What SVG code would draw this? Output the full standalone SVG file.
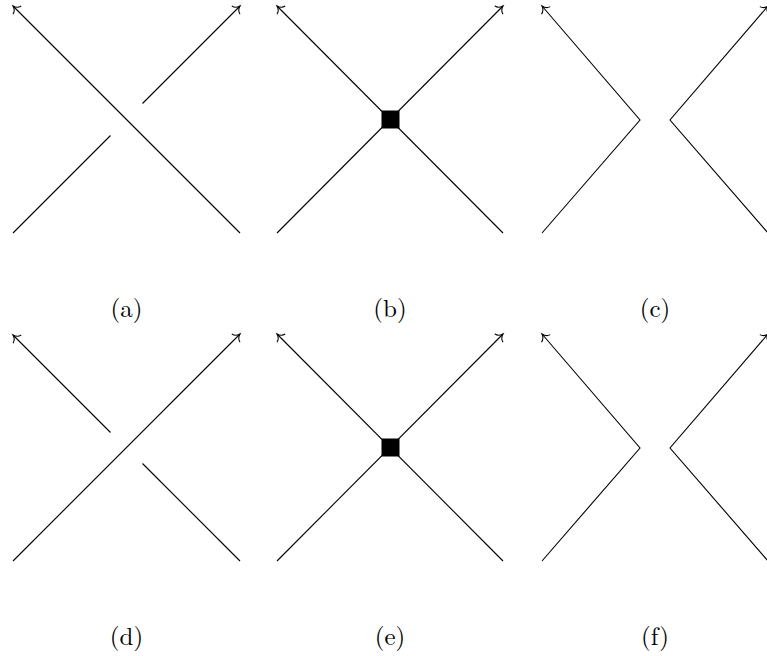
<svg xmlns="http://www.w3.org/2000/svg" width="767" height="656" viewBox="0 0 767 656">
  <style>
    .strand { fill: none; stroke: #000; stroke-width: 1.1; stroke-linecap: butt; stroke-linejoin: miter; }
    .arr { marker-end: url(#tip); }
    .vertex { fill: #000; }
    .label { font-family: "Latin Modern Roman", "Liberation Serif", "DejaVu Serif", serif; font-size: 25px; fill: #000; text-anchor: middle; }
  </style>
  <defs>
    <marker id="tip" markerUnits="userSpaceOnUse" viewBox="-10 -10 20 20" markerWidth="20" markerHeight="20" refX="0" refY="0" orient="auto" overflow="visible">
      <path d="M-5.8,-5.8 C-5.2,-2.6 -2.2,-0.6 0,0 C-2.2,0.6 -5.2,2.6 -5.8,5.8" fill="none" stroke="#000" stroke-width="1.1"/>
    </marker>
  </defs>

  <!-- (a) positive crossing: NW-going strand passes over -->
  <g id="panel-a">
    <g class="connectors">
      <line class="strand arr" x1="240" y1="233" x2="13" y2="6"/>
      <line class="strand" x1="13" y1="233" x2="110.5" y2="135.5"/>
      <line class="strand arr" x1="142.5" y1="103.5" x2="240" y2="6"/>
    </g>
    <text class="label" x="126.5" y="317">(a)</text>
  </g>

  <!-- (b) singular crossing with a vertex -->
  <g id="panel-b">
    <g class="connectors">
      <line class="strand arr" x1="503" y1="233" x2="277" y2="6"/>
      <line class="strand arr" x1="277" y1="233" x2="503" y2="6"/>
    </g>
    <rect class="vertex" x="381.5" y="110.5" width="18" height="18"/>
    <text class="label" x="390" y="317">(b)</text>
  </g>

  <!-- (c) oriented smoothing -->
  <g id="panel-c">
    <g class="connectors">
      <polyline class="strand arr" points="542,233 640,120 542,6"/>
      <polyline class="strand arr" points="768,233 670,120 768,6"/>
    </g>
    <text class="label" x="655" y="317">(c)</text>
  </g>

  <!-- (d) negative crossing: NE-going strand passes over -->
  <g id="panel-d">
    <g class="connectors">
      <line class="strand arr" x1="13" y1="561" x2="240" y2="334"/>
      <line class="strand arr" x1="110.5" y1="432.5" x2="13" y2="335"/>
      <line class="strand" x1="240" y1="561" x2="142.5" y2="463.5"/>
    </g>
    <text class="label" x="126.5" y="645">(d)</text>
  </g>

  <!-- (e) singular crossing with a vertex -->
  <g id="panel-e">
    <g class="connectors">
      <line class="strand arr" x1="503" y1="561" x2="277" y2="334"/>
      <line class="strand arr" x1="277" y1="561" x2="503" y2="334"/>
    </g>
    <rect class="vertex" x="381.5" y="438.5" width="18" height="18"/>
    <text class="label" x="390" y="645">(e)</text>
  </g>

  <!-- (f) oriented smoothing -->
  <g id="panel-f">
    <g class="connectors">
      <polyline class="strand arr" points="542,561 640,448 542,334"/>
      <polyline class="strand arr" points="768,561 670,448 768,334"/>
    </g>
    <text class="label" x="655" y="645">(f)</text>
  </g>
</svg>
